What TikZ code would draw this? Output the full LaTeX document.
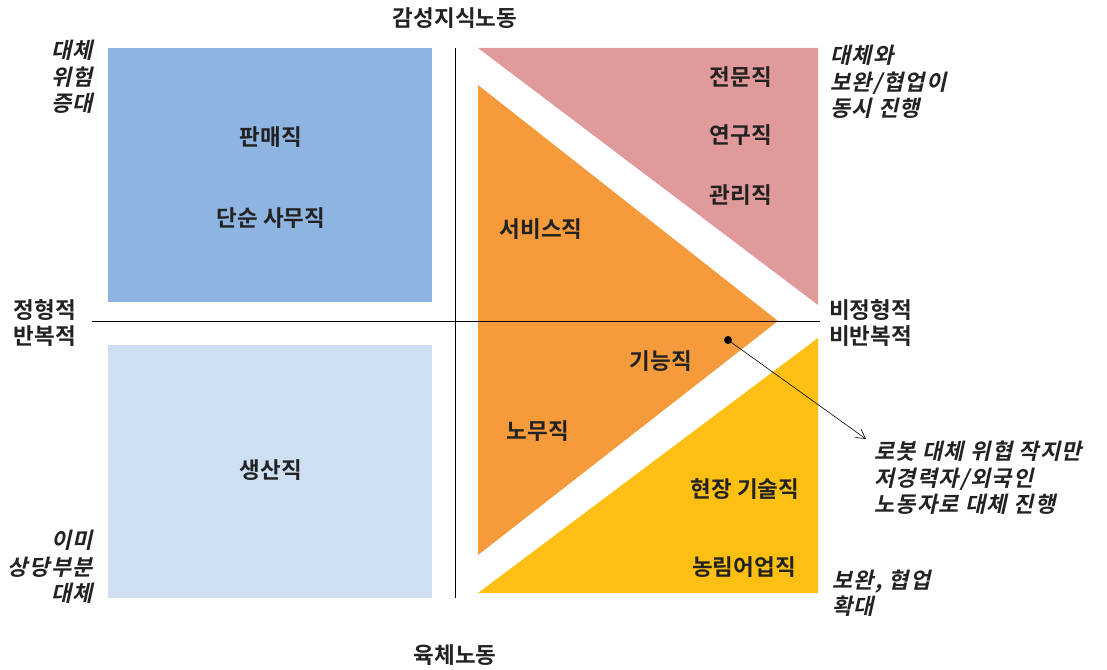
\documentclass[tikz,border=0pt]{standalone}
\usepackage{fontspec}
\setmainfont{Noto Sans CJK KR}[BoldFont={Noto Sans CJK KR Bold},ItalicFont={Noto Sans CJK KR Bold},ItalicFeatures={FakeSlant=0.22,LetterSpace=6},BoldItalicFont={Noto Sans CJK KR Bold},BoldItalicFeatures={FakeSlant=0.22,LetterSpace=6}]
\usetikzlibrary{arrows.meta}
\definecolor{cblue}{HTML}{8EB4E2}
\definecolor{clblue}{HTML}{CEDFF3}
\definecolor{cpink}{HTML}{E09A9B}
\definecolor{corange}{HTML}{F59B3C}
\definecolor{cyellow}{HTML}{FCBF12}
\definecolor{ctext}{HTML}{222222}
\tikzset{
  job/.style={font=\fontsize{22.5}{26}\selectfont\bfseries, text=ctext, inner sep=0pt},
  axislbl/.style={font=\fontsize{22.5}{26.5}\selectfont\bfseries, text=ctext, inner sep=0pt},
  note/.style={font=\fontsize{22}{26.5}\selectfont\itshape, text=ctext, inner sep=0pt},
  axisline/.style={draw=black, line width=1pt},
}
\begin{document}
\begin{tikzpicture}[x=1pt,y=-1pt]
\useasboundingbox (0,0) rectangle (1107,669);
% quadrant shapes
\fill[cblue] (108,48) rectangle (432,302);
\fill[clblue] (108,345) rectangle (432,598);
\fill[cpink] (478,48) -- (818,48) -- (818,305) -- cycle;
\fill[corange] (478,85) -- (778,321) -- (478,555) -- cycle;
\fill[cyellow] (818,338) -- (818,593) -- (478,593) -- cycle;
% axes
\coordinate (vtop) at (455,48);
\coordinate (vbot) at (455,598);
\coordinate (hl) at (92,321);
\coordinate (hr) at (820,321);
\draw[axisline] (vtop) -- (vbot);
\draw[axisline] (hl) -- (hr);
% axis labels
\node[axislbl] (top) at (455,18) {감성지식노동};
\node[axislbl] (bottom) at (455,655) {육체노동};
\node[axislbl, align=center] (left) at (45,323) {정형적\\반복적};
\node[axislbl, align=left, anchor=west] (right) at (829,323) {비정형적\\비반복적};
% corner notes
\node[note, align=right, anchor=east] (tl) at (93,77) {대체\\위험\\증대};
\node[note, align=right, anchor=east] (bl) at (93,567) {이미\\상당부분\\대체};
\node[note, align=left, anchor=west] (tr) at (830,82) {대체와\\보완/협업이\\동시 진행};
\node[note, align=left, anchor=west] (br) at (832,593) {보완, 협업\\확대};
\node[note, align=left, anchor=west] (ann) at (874,478) {로봇 대체 위협 작지만\\저경력자/외국인\\노동자로 대체 진행};
% jobs
\node[job] (j1) at (271,137) {판매직};
\node[job] (j2) at (271,218) {단순 사무직};
\node[job] (j3) at (271,470) {생산직};
\node[job] (j4) at (741,77) {전문직};
\node[job] (j5) at (741,135) {연구직};
\node[job] (j6) at (741,195) {관리직};
\node[job] (j7) at (541,229) {서비스직};
\node[job] (j8) at (661,361) {기능직};
\node[job] (j9) at (538,431) {노무직};
\node[job] (j10) at (745,489) {현장 기술직};
\node[job] (j11) at (744,567) {농림어업직};
% pointer
\node[circle, fill=black, inner sep=0pt, minimum size=8pt] (dot) at (728,340) {};
\coordinate (tip) at (866,439);
\draw[line width=0.6pt, -{Straight Barb[length=9pt,width=10pt]}] (dot.center) -- (tip);
\end{tikzpicture}
\end{document}
